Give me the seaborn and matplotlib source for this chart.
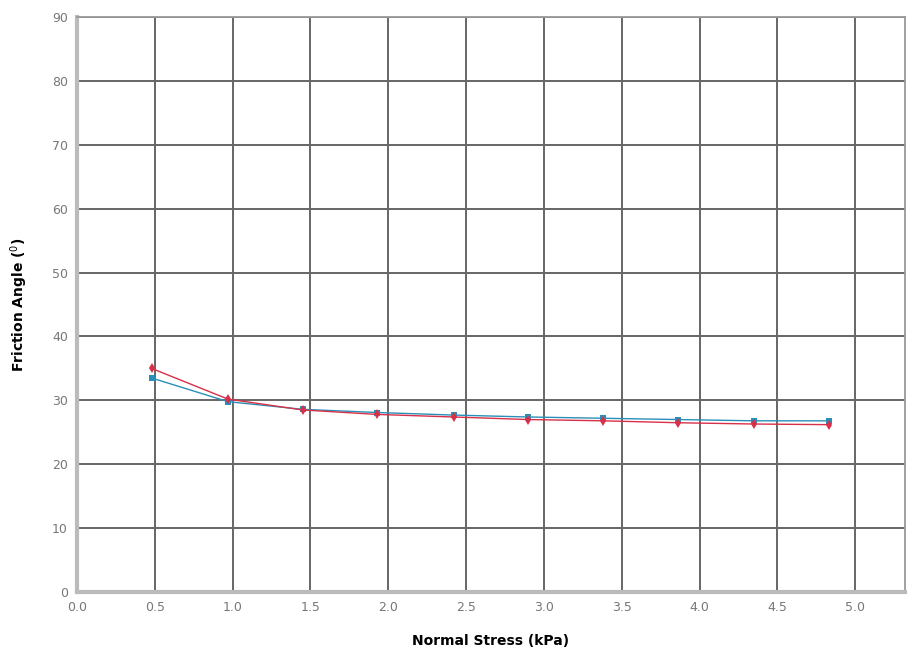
import matplotlib
matplotlib.use("Agg")
import matplotlib.pyplot as plt
import seaborn as sns
import pandas as pd
import numpy as np
from matplotlib.ticker import MultipleLocator

normal_stress = [0.48, 0.97, 1.45, 1.93, 2.42, 2.90, 3.38, 3.86, 4.35, 4.83]
angle_blue = [33.5, 29.8, 28.6, 28.1, 27.7, 27.4, 27.2, 27.0, 26.8, 26.8]
angle_red = [35.0, 30.2, 28.5, 27.8, 27.4, 27.0, 26.8, 26.5, 26.3, 26.2]

df = pd.DataFrame({"x": normal_stress * 2,
                   "y": angle_blue + angle_red,
                   "series": ["A"] * len(normal_stress) + ["B"] * len(normal_stress)})

sns.set_style("white")
fig = plt.figure(figsize=(9.22, 6.67), dpi=100)
ax = fig.add_axes([0.0835, 0.1124, 0.898, 0.862])

sns.lineplot(data=df[df.series == "A"], x="x", y="y", color="#2a8fb8",
             marker="s", markersize=5, linewidth=1.0, markeredgewidth=0,
             legend=False, ax=ax)
sns.lineplot(data=df[df.series == "B"], x="x", y="y", color="#d83048",
             marker="d", markersize=5, linewidth=1.0, markeredgewidth=0,
             legend=False, ax=ax)

ax.set_xlim(0, 5.32)
ax.set_ylim(0, 90)
ax.xaxis.set_major_locator(MultipleLocator(0.5))
ax.xaxis.set_minor_locator(MultipleLocator(0.25))
ax.yaxis.set_major_locator(MultipleLocator(10))
ax.yaxis.set_minor_locator(MultipleLocator(10 / 3))
ax.xaxis.set_major_formatter(matplotlib.ticker.FormatStrFormatter("%.1f"))
ax.grid(True, which="major", color="#666666", linewidth=1.4)
ax.set_axisbelow(True)

for s in ["top", "right"]:
    ax.spines[s].set_color("#999999")
    ax.spines[s].set_linewidth(1.3)
ax.spines["left"].set_color("#bbbbbb")
ax.spines["left"].set_linewidth(3)
ax.spines["bottom"].set_color("#bbbbbb")
ax.spines["bottom"].set_linewidth(3)

ax.tick_params(axis="both", which="both", colors="#777777", labelcolor="#777777",
               labelsize=9, length=3, direction="out")
ax.tick_params(axis="both", which="minor", length=2)

ax.set_xlabel("Normal Stress (kPa)", fontsize=10, fontweight="bold", color="black", labelpad=14)
ax.set_ylabel(r"Friction Angle ($^{0}$)", fontsize=10, fontweight="bold", color="black", labelpad=16)

fig.savefig("out.png", dpi=100)
